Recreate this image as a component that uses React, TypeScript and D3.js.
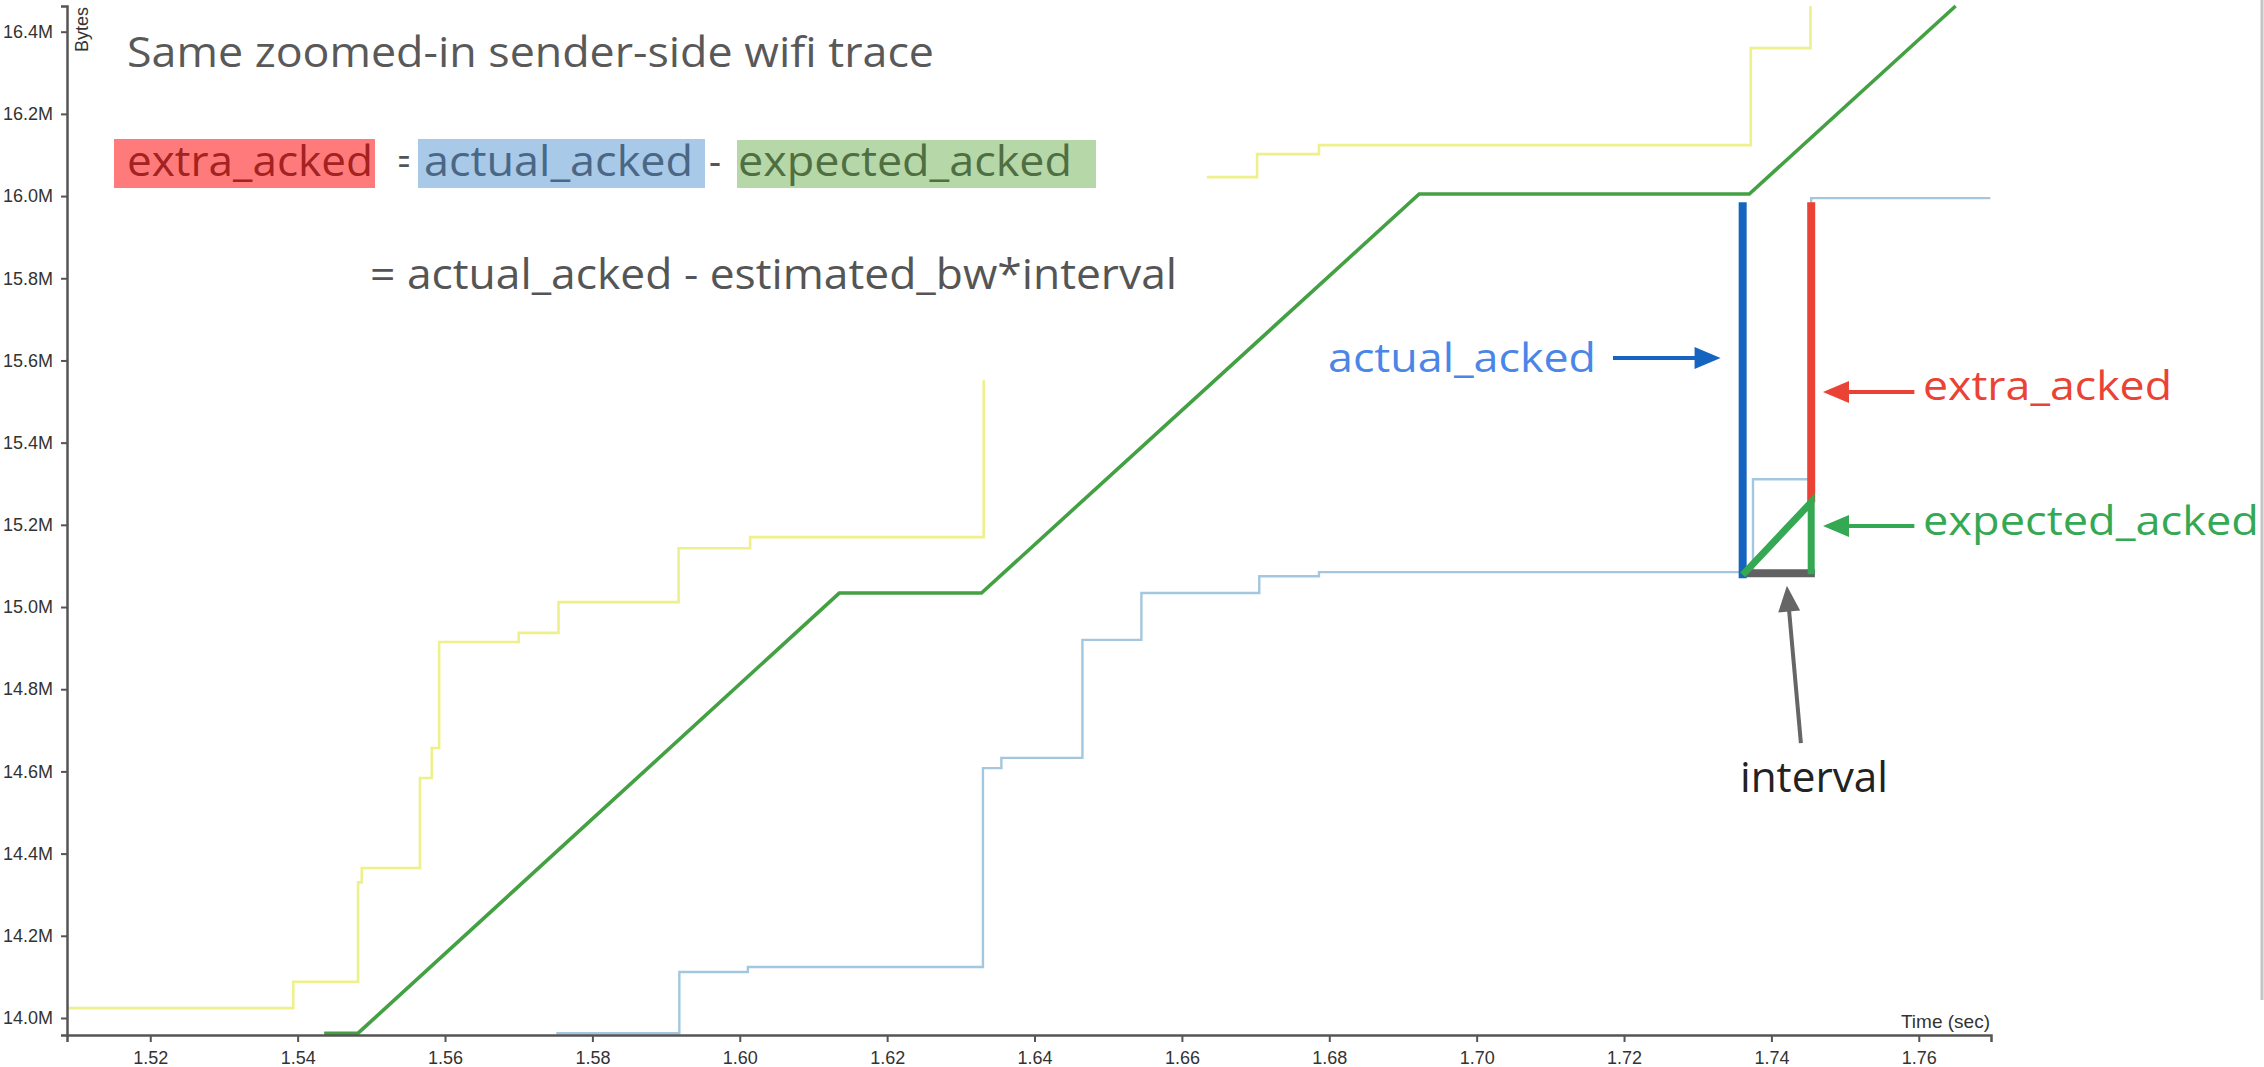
import React, { useEffect, useRef } from "react";
import * as d3 from "d3";

const W = 2264;
const H = 1067;

// axis extents and ticks
const X_DOMAIN: [number, number] = [1.5087, 1.7698];
const Y_DOMAIN: [number, number] = [13.9586, 16.4625];
const xTicks = [1.52, 1.54, 1.56, 1.58, 1.6, 1.62, 1.64, 1.66, 1.68, 1.7, 1.72, 1.74, 1.76];
const yTicks = [14.0, 14.2, 14.4, 14.6, 14.8, 15.0, 15.2, 15.4, 15.6, 15.8, 16.0, 16.2, 16.4];
const xAxisLabel = "Time (sec)";
const yAxisLabel = "Bytes";

// yellow step series (two segments) [time, MBytes]
const yellowSeg1: [number, number][] = [
  [1.5087, 14.024], [1.5394, 14.088], [1.5482, 14.33], [1.5487, 14.365],
  [1.5566, 14.584], [1.5582, 14.657], [1.5592, 14.915], [1.57, 14.937],
  [1.5754, 15.012], [1.5917, 15.143], [1.6014, 15.17], [1.6331, 15.552],
];
const yellowSeg2: [number, number][] = [
  [1.6634, 16.046], [1.6702, 16.102], [1.6786, 16.124], [1.7372, 16.36], [1.7453, 16.4625],
];

// green pacing series (corner points)
const greenLine: [number, number][] = [
  [1.5436, 13.963], [1.5482, 13.963], [1.6135, 15.034], [1.6328, 15.034],
  [1.6922, 16.005], [1.737, 16.005], [1.765, 16.4625],
];

// light blue step series
const blueLine: [number, number][] = [
  [1.5751, 13.963], [1.5918, 14.112], [1.6011, 14.124], [1.633, 14.608],
  [1.6355, 14.633], [1.6465, 14.92], [1.6545, 15.034], [1.6705, 15.075],
  [1.6786, 15.085], [1.7375, 15.311], [1.7454, 15.995], [1.7697, 15.995],
];

// annotation marks
const actualAckedBar: [number, number][] = [[1.7361, 15.985], [1.7361, 15.07]];
const extraAckedBar: [number, number][] = [[1.7454, 15.985], [1.7454, 15.255]];
const expectedAckedTri: [number, number][] = [[1.7361, 15.078], [1.7454, 15.255], [1.7454, 15.08]];
const intervalBar: [number, number][] = [[1.7364, 15.082], [1.7459, 15.082]];

// arrows [tail, tip]
const arrowActual: [number, number][] = [[1.7185, 15.606], [1.7331, 15.606]];
const arrowExtra: [number, number][] = [[1.7594, 15.523], [1.7470, 15.523]];
const arrowExpected: [number, number][] = [[1.7594, 15.197], [1.7470, 15.197]];
const arrowInterval: [number, number][] = [[1.7440, 14.669], [1.7421, 15.052]];

const titleText = "Same zoomed-in sender-side wifi trace";
const formulaTerms = ["extra_acked", "=", "actual_acked", "-", "expected_acked"];
const formulaLine2 = "= actual_acked - estimated_bw*interval";
const annotationLabels = ["actual_acked", "extra_acked", "expected_acked", "interval"];

const SLIDE_FONT = "'Open Sans', 'Liberation Sans', Arial, sans-serif";
const AXIS_FONT = "'Liberation Sans', Arial, sans-serif";

function Arrow({ pts, x, y, color, width = 4, head = 26, half = 11 }: any) {
  const [x0, y0] = [x(pts[0][0]), y(pts[0][1])];
  const [x1, y1] = [x(pts[1][0]), y(pts[1][1])];
  const dx = x1 - x0, dy = y1 - y0;
  const len = Math.hypot(dx, dy);
  const ux = dx / len, uy = dy / len;
  const bx = x1 - ux * head, by = y1 - uy * head;
  const px = -uy, py = ux;
  const poly = `${x1},${y1} ${bx + px * half},${by + py * half} ${bx - px * half},${by - py * half}`;
  return (
    <g>
      <line x1={x0} y1={y0} x2={bx + ux * 2} y2={by + uy * 2} stroke={color} strokeWidth={width} />
      <polygon points={poly} fill={color} />
    </g>
  );
}

export default function App() {
  const gx = useRef<SVGGElement>(null);
  const gy = useRef<SVGGElement>(null);

  const x = d3.scaleLinear().domain(X_DOMAIN).range([67, 1991]);
  const y = d3.scaleLinear().domain(Y_DOMAIN).range([1035, 6]);

  const stepLine = d3.line<[number, number]>().x(d => x(d[0])).y(d => y(d[1])).curve(d3.curveStepAfter);
  const straight = d3.line<[number, number]>().x(d => x(d[0])).y(d => y(d[1]));

  useEffect(() => {
    const ax = d3.axisBottom(x).tickValues(xTicks).tickFormat(d3.format(".2f") as any).tickSize(7).tickPadding(9);
    const ay = d3.axisLeft(y).tickValues(yTicks).tickFormat((v: any) => (+v).toFixed(1) + "M").tickSize(6).tickPadding(8);
    const sx = d3.select(gx.current!);
    sx.call(ax as any);
    const sy = d3.select(gy.current!);
    sy.call(ay as any);
    [sx, sy].forEach(s => {
      s.select(".domain").attr("stroke", "#555").attr("stroke-width", 2.5);
      s.selectAll(".tick line").attr("stroke", "#555").attr("stroke-width", 2);
      s.selectAll(".tick text").attr("fill", "#333").style("font-size", "18px").style("font-family", AXIS_FONT);
    });
  }, []);

  return (
    <svg width={W} height={H} style={{ position: "absolute", left: 0, top: 0, background: "#fff" }}>
      <rect x={0} y={0} width={W} height={H} fill="#fff" />
      {/* slide border on right */}
      <line x1={2262} y1={0} x2={2262} y2={1000} stroke="#c4c4c4" strokeWidth={3} />

      {/* data lines */}
      <path d={stepLine(yellowSeg1)!} fill="none" stroke="#eef08c" strokeWidth={2.6} />
      <path d={stepLine(yellowSeg2)!} fill="none" stroke="#eef08c" strokeWidth={2.6} />
      <path d={stepLine(blueLine)!} fill="none" stroke="#a3c7de" strokeWidth={2.4} />
      <path d={straight(greenLine)!} fill="none" stroke="#43a043" strokeWidth={3.6} />

      {/* axes */}
      <g ref={gx} transform={`translate(0,1035)`} />
      <g ref={gy} transform={`translate(67,0)`} />
      <text x={1990} y={1028} textAnchor="end" fontSize={19} fontFamily={AXIS_FONT} fill="#333">{xAxisLabel}</text>
      <text transform="translate(88,7) rotate(-90)" textAnchor="end" fontSize={18} fontFamily={AXIS_FONT} fill="#333">{yAxisLabel}</text>

      {/* title and formula */}
      <text x={127} y={67} fontSize={42} fontFamily={SLIDE_FONT} fill="#595959" textLength={807} lengthAdjust="spacingAndGlyphs">{titleText}</text>

      <rect x={114} y={139} width={261} height={49} fill="#ff7b7b" />
      <rect x={418} y={139} width={287} height={49} fill="#a9c9e9" />
      <rect x={737} y={140} width={359} height={48} fill="#b6d7a8" />
      <text x={127} y={176} fontSize={42} fontFamily={SLIDE_FONT} fill="#a32222" textLength={246} lengthAdjust="spacingAndGlyphs">{formulaTerms[0]}</text>
      <text x={398} y={176} fontSize={42} fontFamily={SLIDE_FONT} fill="#555" textLength={12} lengthAdjust="spacingAndGlyphs">{formulaTerms[1]}</text>
      <text x={424} y={176} fontSize={42} fontFamily={SLIDE_FONT} fill="#4a6785" textLength={269} lengthAdjust="spacingAndGlyphs">{formulaTerms[2]}</text>
      <text x={709} y={176} fontSize={42} fontFamily={SLIDE_FONT} fill="#555" textLength={12} lengthAdjust="spacingAndGlyphs">{formulaTerms[3]}</text>
      <text x={738} y={176} fontSize={42} fontFamily={SLIDE_FONT} fill="#4f6f43" textLength={334} lengthAdjust="spacingAndGlyphs">{formulaTerms[4]}</text>
      <text x={370} y={289} fontSize={42} fontFamily={SLIDE_FONT} fill="#555" textLength={807} lengthAdjust="spacingAndGlyphs">{formulaLine2}</text>

      {/* annotation marks */}
      <path d={straight(intervalBar)!} fill="none" stroke="#616161" strokeWidth={8} />
      <path d={straight(actualAckedBar)!} fill="none" stroke="#1565c0" strokeWidth={8} />
      <path d={straight(extraAckedBar)!} fill="none" stroke="#ea4335" strokeWidth={8} />
      <path d={straight(expectedAckedTri)!} fill="none" stroke="#34a853" strokeWidth={7} strokeLinejoin="miter" />

      <Arrow pts={arrowActual} x={x} y={y} color="#1565c0" />
      <Arrow pts={arrowExtra} x={x} y={y} color="#ea4335" />
      <Arrow pts={arrowExpected} x={x} y={y} color="#34a853" />
      <Arrow pts={arrowInterval} x={x} y={y} color="#666" />

      <text x={1328} y={372} fontSize={40} fontFamily={SLIDE_FONT} fill="#4a86e8" textLength={268} lengthAdjust="spacingAndGlyphs">{annotationLabels[0]}</text>
      <text x={1923} y={400} fontSize={40} fontFamily={SLIDE_FONT} fill="#ea4335" textLength={249} lengthAdjust="spacingAndGlyphs">{annotationLabels[1]}</text>
      <text x={1923} y={535} fontSize={40} fontFamily={SLIDE_FONT} fill="#34a853" textLength={336} lengthAdjust="spacingAndGlyphs">{annotationLabels[2]}</text>
      <text x={1740} y={792} fontSize={42} fontFamily={SLIDE_FONT} fill="#222" textLength={148} lengthAdjust="spacingAndGlyphs">{annotationLabels[3]}</text>
    </svg>
  );
}
